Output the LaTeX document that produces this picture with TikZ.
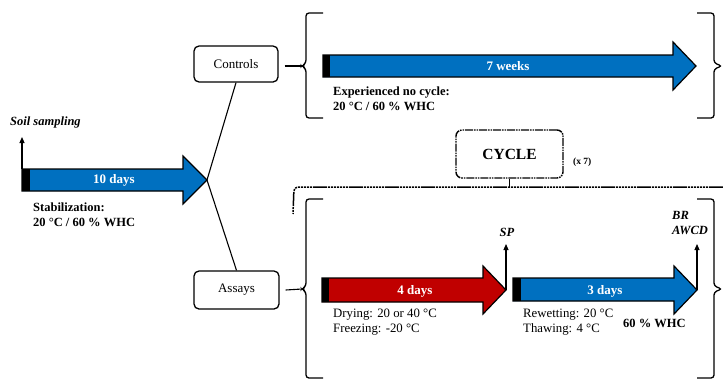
\documentclass[tikz,border=0pt]{standalone}
\usepackage{fontspec}
\setmainfont{Liberation Serif}
\usetikzlibrary{arrows.meta}
\definecolor{arrblue}{HTML}{0070C0}
\definecolor{arrred}{HTML}{C00000}
\tikzset{
  lbl/.style={font=\fontsize{12.8}{14.5}\selectfont, inner sep=0pt, anchor=west, align=left},
  blbl/.style={font=\fontsize{12.5}{14.5}\selectfont\bfseries, inner sep=0pt, anchor=west, align=left},
  inlbl/.style={font=\fontsize{13}{15}\selectfont\bfseries, text=white, inner sep=1pt},
  rbox/.style={draw, line width=1.3pt, rounded corners=5pt, font=\fontsize{13}{15}\selectfont},
  conn/.style={line width=1.1pt},
  brace/.style={line width=1.3pt, rounded corners=3pt},
  fat/.style={draw=black, line width=1.2pt},
  uparr/.style={line width=1.1pt, -{Triangle[length=6pt,width=5pt]}},
  mixdash/.style={line width=1.5pt, dash pattern=on 14pt off 1pt on 2pt off 1pt on 2pt off 1pt on 2pt off 1pt on 2pt off 1pt on 2pt off 1pt on 2pt off 1pt on 2pt off 1pt},
}
\begin{document}
\begin{tikzpicture}[x=1pt,y=-1pt]
\useasboundingbox (0,0) rectangle (723,381);

% ---------- stabilization arrow ----------
\fill[white] (0,0) rectangle (723,381);
\draw[fat, fill=arrblue] (22,169) -- (183,169) -- (183,156) -- (207,180) -- (183,204) -- (183,191) -- (22,191) -- cycle;
\fill[black] (22,169) rectangle (30,191);
\coordinate (stabtip) at (207,180);
\coordinate (stabstart) at (22,169);
\node[inlbl] (d10) at (114,180) {10 days};
\node[font=\fontsize{12.5}{14}\selectfont\bfseries\itshape, inner sep=0pt, anchor=west] (soil) at (10,122) {Soil sampling};
\coordinate (soilend) at (22,137);
\draw[uparr] (stabstart) -- (soilend);
\node[blbl] (stab) at (33,215) {Stabilization:\\20 °C / 60 \% WHC};

% ---------- boxes ----------
\node[rbox, minimum width=84pt, minimum height=36pt] (controls) at (236,64) {Controls};
\node[rbox, minimum width=85pt, minimum height=38pt] (assays) at (236.5,290) {Assays};
\draw[conn] (stabtip) -- (controls.south);
\draw[conn] (stabtip) -- (assays.north);

% ---------- controls brace ----------
\coordinate (cbl) at (302,66);
\draw[conn] (controls.east) ++(6,2) -- (cbl);
\draw[brace] (323,13) -- (306,13) -- (306,63) -- (302,66) -- (306,69) -- (306,118) -- (323,118);
\draw[brace] (697,13) -- (714,13) -- (714,63) -- (722,66) -- (714,69) -- (714,118) -- (697,118);

\draw[fat, fill=arrblue] (323,55) -- (673,55) -- (673,42) -- (696,66) -- (673,90) -- (673,77) -- (323,77) -- cycle;
\fill[black] (323,55) rectangle (330,77);
\node[inlbl] (w7) at (508,66) {7 weeks};
\node[blbl] (exp) at (333,99) {Experienced no cycle:\\20 °C / 60 \% WHC};

% ---------- cycle ----------
\node[draw, line width=1.4pt, dash pattern=on 8pt off 1pt on 1.5pt off 1pt on 1.5pt off 1pt, rounded corners=6pt, minimum width=107pt, minimum height=48pt, font=\fontsize{15.5}{17}\selectfont\bfseries] (cycle) at (509.5,154) {CYCLE};
\node[font=\fontsize{9.5}{11}\selectfont\bfseries, inner sep=0pt, anchor=west] (x7) at (573,162) {(x 7)};
\coordinate (cyclejoin) at (509.5,187);
\draw[line width=1.4pt] (cycle.south) -- (cyclejoin);
\draw[mixdash, rounded corners=4pt] (723,187) -- (294,187) -- (293,214);

% ---------- assays brace ----------
\coordinate (abl) at (302,289);
\draw[conn] (assays.east) ++(6,0) -- (abl);
\draw[brace] (323,199) -- (306,199) -- (306,286) -- (302,289) -- (306,292) -- (306,378) -- (323,378);
\draw[brace] (697,199) -- (714,199) -- (714,286) -- (722,289) -- (714,292) -- (714,378) -- (697,378);

% red arrow
\draw[fat, fill=arrred] (322,278) -- (483,278) -- (483,266) -- (506,290) -- (483,314) -- (483,302) -- (322,302) -- cycle;
\fill[black] (322,278) rectangle (329,302);
\node[inlbl] (d4) at (415,291) {4 days};
\coordinate (redtip) at (506,290);
\node[font=\fontsize{12.5}{14}\selectfont\bfseries\itshape, inner sep=0pt] (sp) at (507,232) {SP};
\coordinate (spend) at (506,244);
\draw[uparr] (redtip) -- (spend);
\node[lbl] (dry) at (333,322) {Drying: 20 or 40 °C\\Freezing: -20 °C};

% blue arrow
\draw[fat, fill=arrblue] (513,278) -- (674,278) -- (674,266) -- (697,290) -- (674,314) -- (674,301) -- (513,301) -- cycle;
\fill[black] (513,278) rectangle (521,301);
\node[inlbl] (d3) at (605,291) {3 days};
\coordinate (bluetip) at (697,290);
\node[font=\fontsize{12.5}{15}\selectfont\bfseries\itshape, inner sep=0pt, align=left, anchor=west] (brawcd) at (672,223) {BR\\AWCD};
\coordinate (brend) at (697,244);
\draw[uparr] (bluetip) -- (brend);
\node[lbl] (rew) at (523,322) {Rewetting: 20 °C\\Thawing: 4 °C};
\node[blbl] (whc) at (623,323) {60 \% WHC};
\end{tikzpicture}
\end{document}
